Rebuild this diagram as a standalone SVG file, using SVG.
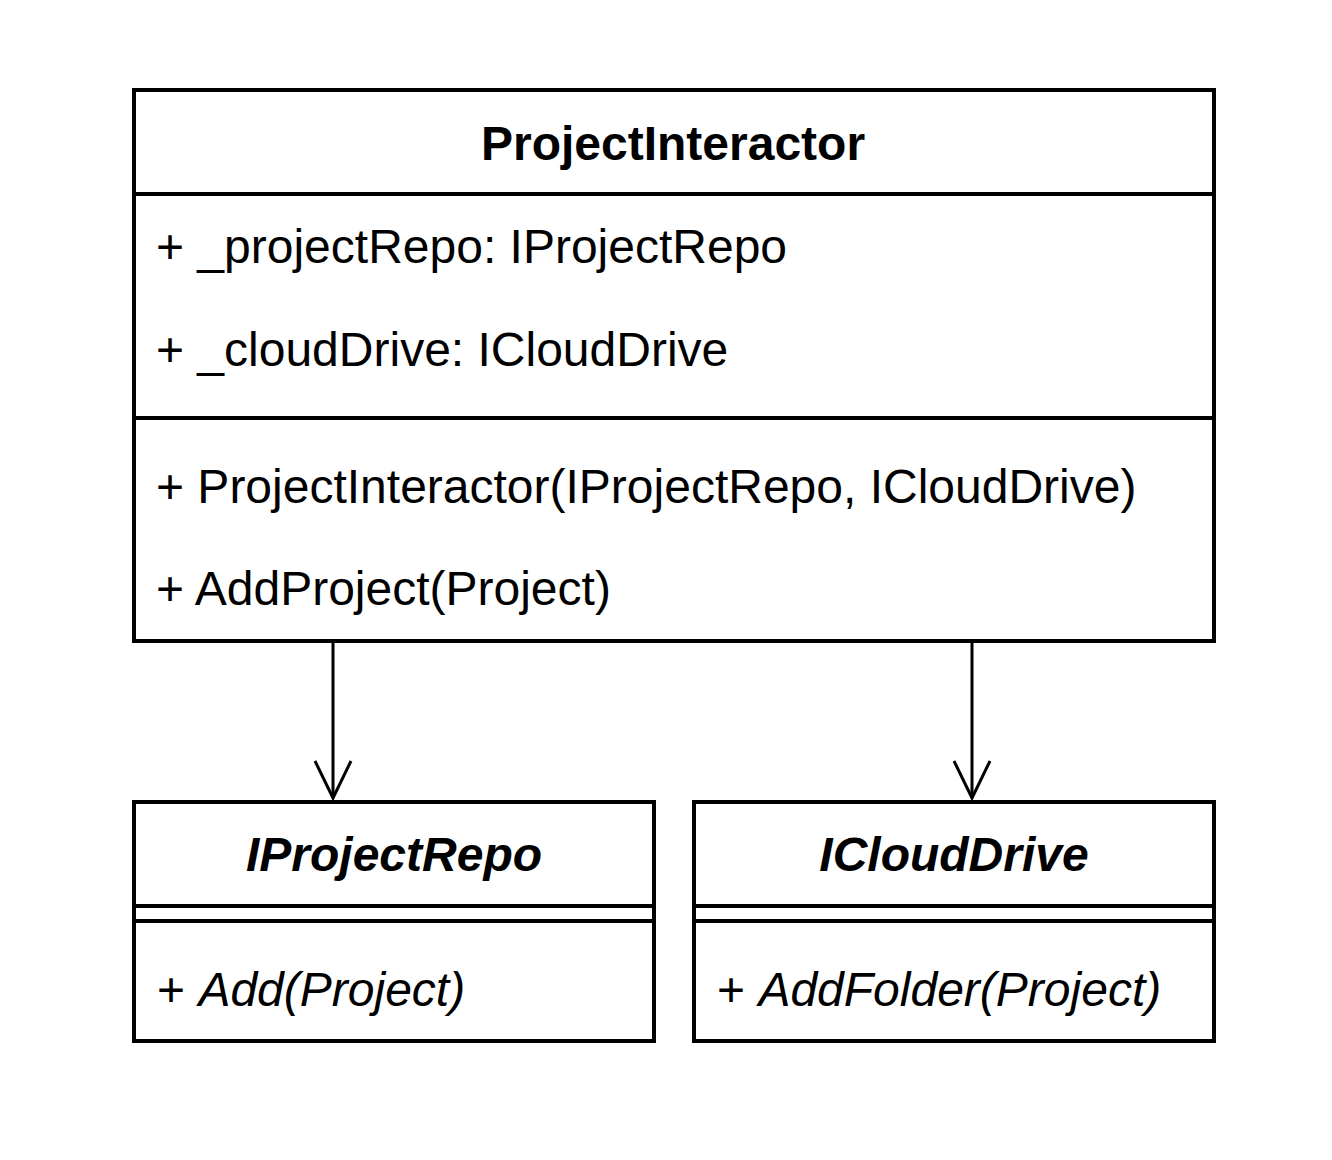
<svg xmlns="http://www.w3.org/2000/svg" width="1332" height="1160" viewBox="0 0 1332 1160">
<style>
.box{fill:#fff;stroke:#000;stroke-width:4}
.sep{stroke:#000;stroke-width:4;fill:none}
.t{font-family:"Liberation Sans",Arial,sans-serif;font-size:48px;fill:#000}
.title{font-weight:bold;text-anchor:middle}
.it{font-style:italic}
.conn{stroke:#000;stroke-width:3;fill:none}
</style>
<defs>
<marker id="open" markerUnits="userSpaceOnUse" markerWidth="46" markerHeight="46" viewBox="-42 -23 46 46" refX="0" refY="0" orient="auto">
<path d="M-37,-18 L0,0 L-37,18" fill="none" stroke="#000" stroke-width="3"/>
</marker>
</defs>
<rect width="1332" height="1160" fill="#fff"/>
<g id="ProjectInteractor">
<rect class="box" x="134" y="90" width="1080" height="551"/>
<line class="sep" x1="134" y1="194" x2="1214" y2="194"/>
<line class="sep" x1="134" y1="418" x2="1214" y2="418"/>
<text class="t title" x="673" y="160">ProjectInteractor</text>
<text class="t" x="156" y="263">+ _projectRepo: IProjectRepo</text>
<text class="t" x="156" y="366">+ _cloudDrive: ICloudDrive</text>
<text class="t" x="156" y="503">+ ProjectInteractor(IProjectRepo, ICloudDrive)</text>
<text class="t" x="156" y="605">+ AddProject(Project)</text>
</g>
<g id="IProjectRepo">
<rect class="box" x="134" y="802" width="520" height="239"/>
<line class="sep" x1="134" y1="906" x2="654" y2="906"/>
<line class="sep" x1="134" y1="921" x2="654" y2="921"/>
<text class="t title it" x="394" y="871">IProjectRepo</text>
<text class="t" x="157" y="1006">+ <tspan class="it">Add(Project)</tspan></text>
</g>
<g id="ICloudDrive">
<rect class="box" x="694" y="802" width="520" height="239"/>
<line class="sep" x1="694" y1="906" x2="1214" y2="906"/>
<line class="sep" x1="694" y1="921" x2="1214" y2="921"/>
<text class="t title it" x="954" y="871">ICloudDrive</text>
<text class="t" x="717" y="1006">+ <tspan class="it">AddFolder(Project)</tspan></text>
</g>
<g id="connectors">
<line class="conn" x1="333" y1="643" x2="333" y2="798" marker-end="url(#open)"/>
<line class="conn" x1="972" y1="643" x2="972" y2="798" marker-end="url(#open)"/>
</g>
</svg>
